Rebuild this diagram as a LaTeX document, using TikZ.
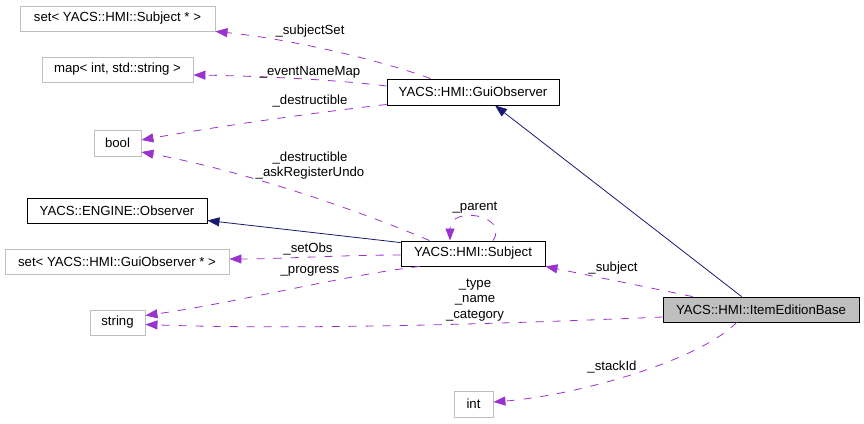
\documentclass[tikz,border=0pt]{standalone}
\usepackage{fontspec}
\setmainfont{Liberation Sans}
\usetikzlibrary{arrows.meta,calc}
\definecolor{dep}{HTML}{9A32CD}
\definecolor{inh}{HTML}{191970}
\definecolor{gbord}{HTML}{BFBFBF}
\begin{document}
\begin{tikzpicture}[x=1pt,y=-1pt,
  every node/.style={font=\fontsize{13.2}{15.5}\selectfont, inner sep=0pt},
  cls/.style={draw=black, line width=0.9pt, rectangle, anchor=center},
  ext/.style={draw=gbord, line width=0.9pt, rectangle, anchor=center},
  cur/.style={draw=black, fill=gbord, line width=0.9pt, rectangle, anchor=center},
  depline/.style={draw=dep, line width=0.8pt, dash pattern=on 8pt off 9pt, -{Triangle[length=12pt,width=9pt]}, fill=none},
  inhline/.style={draw=inh, line width=0.8pt, -{Triangle[length=12pt,width=9pt]}, fill=none},
  lbl/.style={align=center, text=black}]
\useasboundingbox (0,0) rectangle (864,423);
% nodes
\node[ext, minimum width=195pt, minimum height=25pt] (setsub) at (117.5,18.5) {set< YACS::HMI::Subject * >};
\node[ext, minimum width=151pt, minimum height=25pt] (map) at (117.5,69.5) {map< int, std::string >};
\node[cls, minimum width=172pt, minimum height=26pt] (gui) at (473,92) {YACS::HMI::GuiObserver};
\node[ext, minimum width=47pt, minimum height=26pt] (bool) at (117.5,143) {bool};
\node[cls, minimum width=180pt, minimum height=25pt] (engine) at (117,210.5) {YACS::ENGINE::Observer};
\node[ext, minimum width=224pt, minimum height=25pt] (setgui) at (117,261.5) {set< YACS::HMI::GuiObserver * >};
\node[ext, minimum width=55pt, minimum height=25pt] (string) at (117.5,322.5) {string};
\node[cls, minimum width=144pt, minimum height=25pt] (subject) at (473,253.5) {YACS::HMI::Subject};
\node[cur, minimum width=196pt, minimum height=25pt] (item) at (761,309.5) {YACS::HMI::ItemEditionBase};
\node[ext, minimum width=39pt, minimum height=26pt] (int) at (473.5,404) {int};
% edges
\draw[depline] ($(gui.north west)+(44,0)$) .. controls (380,60) and (290,39) .. (setsub.south east);
\draw[depline] ($(gui.west)+(0,-6)$) .. controls (340,80) and (260,76) .. ($(map.east)+(0,5.5)$);
\draw[depline] ($(gui.south west)+(0,-1)$) .. controls (320,112) and (220,126) .. ($(bool.east)+(0,-3)$);
\draw[depline] ($(subject.north west)+(29,0)$) .. controls (370,215) and (250,172) .. ($(bool.east)+(0,9)$);
\draw[depline] ($(subject.north)+(20,0)$) .. controls (510,215) and (450,205) .. ($(subject.north)+(-23,0)$);
\draw[inhline] ($(subject.north west)+(0,2)$) -- ($(engine.east)+(0,10)$);
\draw[depline] ($(subject.west)+(0,1.5)$) .. controls (340,255) and (280,259) .. ($(setgui.east)+(0,-2.5)$);
\draw[depline] ($(subject.south west)+(19,0)$) .. controls (340,276) and (240,302) .. ($(string.east)+(0,-7)$);
\draw[depline] ($(item.west)+(0,7.5)$) .. controls (500,324) and (300,330) .. ($(string.east)+(0,2)$);
\draw[depline] ($(item.north west)+(30,0)$) -- (subject.south east);
\draw[inhline] ($(item.north west)+(79,0)$) -- ($(gui.south)+(22,0)$);
\draw[depline] ($(item.south west)+(74,0)$) .. controls (700,360) and (580,395) .. ($(int.east)+(0,-2)$);
% labels
\node[lbl] (l1) at (310,31) {\_subjectSet};
\node[lbl] (l2) at (310,72) {\_eventNameMap};
\node[lbl] (l3) at (310,101) {\_destructible};
\node[lbl] (l4) at (310,165.5) {\_destructible\\\_askRegisterUndo};
\node[lbl] (l5) at (475,208) {\_parent};
\node[lbl] (l6) at (308,249) {\_setObs};
\node[lbl] (l7) at (310,271) {\_progress};
\node[lbl] (l8) at (613,268) {\_subject};
\node[lbl] (l9) at (475,300) {\_type\\\_name\\\_category};
\node[lbl] (l10) at (612,367) {\_stackId};
\end{tikzpicture}
\end{document}
